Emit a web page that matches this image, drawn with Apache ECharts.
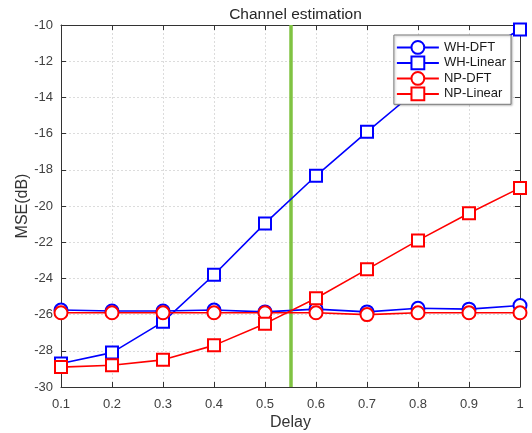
<!DOCTYPE html>
<html>
<head>
<meta charset="utf-8">
<script src="https://cdn.jsdelivr.net/npm/echarts@6/dist/echarts.min.js"></script>
<style>
  html, body { margin: 0; padding: 0; background: #fff; }
  #chart { width: 532px; height: 433px; }
</style>
</head>
<body>
<div id="chart"></div>
<script>
// Delay values (x axis)
const delays = [0.1, 0.2, 0.3, 0.4, 0.5, 0.6, 0.7, 0.8, 0.9, 1.0];

// MSE (dB) per estimator
const whDft    = [-25.75, -25.8, -25.8, -25.75, -25.85, -25.7, -25.85, -25.65, -25.7, -25.5];
const whLinear = [-28.7, -28.1, -26.4, -23.8, -20.96, -18.33, -15.9, -13.55, -11.9, -10.25];
const npDft    = [-25.9, -25.9, -25.9, -25.9, -25.9, -25.9, -26.0, -25.9, -25.9, -25.9];
const npLinear = [-28.9, -28.8, -28.5, -27.7, -26.5, -25.1, -23.5, -21.9, -20.4, -19.0];

// Vertical reference marker on the delay axis
const refDelay = 0.552;

const seriesNames = ['WH-DFT', 'WH-Linear', 'NP-DFT', 'NP-Linear'];

const pairs = ys => delays.map((x, i) => [x, ys[i]]);

const FONT = 'Liberation Sans, Arial, sans-serif';
const frame = '#333333';
const tickFont = { fontFamily: FONT, fontSize: 13, color: '#404040' };
const nameFont = { fontFamily: FONT, fontSize: 16, color: '#333333' };

function lineSeries(name, ys, color, symbol) {
  return {
    name, type: 'line', data: pairs(ys),
    symbol, symbolSize: symbol === 'emptyCircle' ? 13 : 12,
    showAllSymbol: true,
    lineStyle: { color, width: 1.6 },
    itemStyle: { color, borderColor: color, borderWidth: 1.6 },
    emphasis: { disabled: true },
    z: 3
  };
}

const chart = echarts.init(document.getElementById('chart'), null, { renderer: 'canvas' });

chart.setOption({
  backgroundColor: '#fff',
  animation: false,
  title: {
    text: 'Channel estimation',
    left: 290.5, top: 2, textAlign: 'center',
    textStyle: { fontFamily: FONT, fontSize: 15.5, fontWeight: 'normal', color: '#262626' }
  },
  legend: {
    data: seriesNames,
    orient: 'vertical',
    right: 21, top: 35,
    itemWidth: 42, itemHeight: 16, itemGap: 0.7,
    padding: [5, 5, 3, 2],
    backgroundColor: '#fff',
    borderColor: '#7a7a7a', borderWidth: 1,
    textStyle: { fontFamily: FONT, fontSize: 13, color: '#1a1a1a' },
    shadowColor: 'rgba(0,0,0,0.25)', shadowBlur: 2, shadowOffsetX: 1, shadowOffsetY: 1
  },
  grid: { left: 61, right: 12, top: 25, bottom: 46, containLabel: false, outerBoundsMode: 'none' },
  xAxis: [
    {
      type: 'value', min: 0.1, max: 1, interval: 0.1,
      name: 'Delay', nameLocation: 'middle', nameGap: 28, nameMoveOverlap: false,
      nameTextStyle: nameFont,
      axisLine: { onZero: false, lineStyle: { color: frame, width: 1 } },
      axisTick: { inside: true, length: 5, lineStyle: { color: frame } },
      axisLabel: Object.assign({ margin: 11, formatter: v => String(+v.toFixed(1)) }, tickFont),
      splitLine: { show: true, lineStyle: { color: '#dcdcdc', type: [2, 2], width: 1 } }
    },
    {
      type: 'value', min: 0.1, max: 1, interval: 0.1, position: 'top',
      axisLine: { onZero: false, lineStyle: { color: frame, width: 1 } },
      axisTick: { inside: true, length: 5, lineStyle: { color: frame } },
      axisLabel: { show: false }, splitLine: { show: false }
    }
  ],
  yAxis: [
    {
      type: 'value', min: -30, max: -10, interval: 2,
      name: 'MSE(dB)', nameLocation: 'middle', nameGap: 30, nameRotate: 90, nameMoveOverlap: false,
      nameTextStyle: nameFont,
      axisLine: { onZero: false, lineStyle: { color: frame, width: 1 } },
      axisTick: { inside: true, length: 5, lineStyle: { color: frame } },
      axisLabel: Object.assign({ margin: 8 }, tickFont),
      splitLine: { show: true, lineStyle: { color: '#dcdcdc', type: [2, 2], width: 1 } }
    },
    {
      type: 'value', min: -30, max: -10, interval: 2, position: 'right',
      axisLine: { onZero: false, lineStyle: { color: frame, width: 1 } },
      axisTick: { inside: true, length: 5, lineStyle: { color: frame } },
      axisLabel: { show: false }, splitLine: { show: false }
    }
  ],
  series: [
    lineSeries('WH-DFT', whDft, '#0000ff', 'emptyCircle'),
    lineSeries('WH-Linear', whLinear, '#0000ff', 'emptyRect'),
    lineSeries('NP-DFT', npDft, '#ff0000', 'emptyCircle'),
    Object.assign(lineSeries('NP-Linear', npLinear, '#ff0000', 'emptyRect'), {
      markLine: {
        silent: true, symbol: 'none', label: { show: false },
        lineStyle: { color: '#80c342', width: 3.5, type: 'solid' },
        data: [{ xAxis: refDelay }],
        z: 2
      }
    })
  ]
});
</script>
</body>
</html>
